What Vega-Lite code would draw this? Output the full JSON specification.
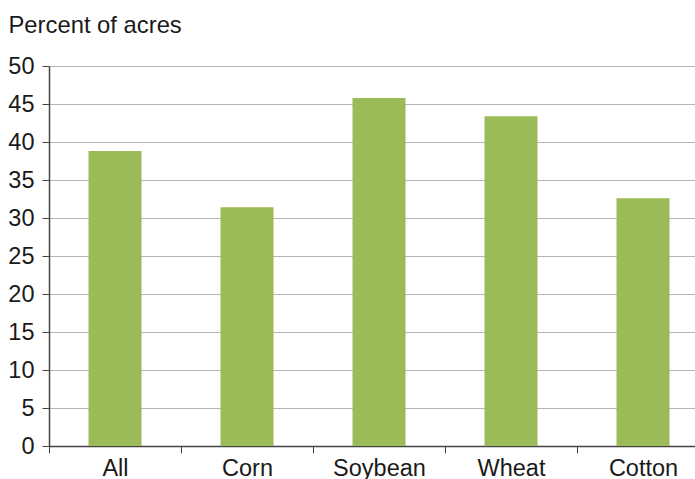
{
  "$schema": "https://vega.github.io/schema/vega-lite/v6.json",
  "autosize": "none",
  "padding": {"left": 49, "top": 66, "right": 0, "bottom": 33},
  "width": 660,
  "height": 380,
  "background": "white",
  "data": {"values": [
    {"crop": "All", "pct": 38.8},
    {"crop": "Corn", "pct": 31.4},
    {"crop": "Soybean", "pct": 45.8},
    {"crop": "Wheat", "pct": 43.4},
    {"crop": "Cotton", "pct": 32.6}
  ]},
  "config": {
    "view": {"stroke": null},
    "font": "Liberation Sans",
    "axis": {"labelFont": "Liberation Sans", "titleFont": "Liberation Sans", "labelColor": "#1a1a1a", "titleColor": "#1a1a1a"}
  },
  "mark": {"type": "bar", "color": "#9bbb59", "width": 53},
  "encoding": {
    "x": {
      "field": "crop", "type": "nominal", "sort": null,
      "scale": {"paddingInner": 0, "paddingOuter": 0},
      "axis": {
        "title": null, "labelAngle": 0, "labelFontSize": 23.5, "labelPadding": 3,
        "tickSize": 7, "tickColor": "#444", "domainColor": "#444", "domainWidth": 1.5,
        "tickBand": "extent", "grid": false
      }
    },
    "y": {
      "field": "pct", "type": "quantitative",
      "scale": {"domain": [0, 50], "nice": false},
      "axis": {
        "values": [0, 5, 10, 15, 20, 25, 30, 35, 40, 45, 50],
        "title": "Percent of acres", "titleAngle": 0, "titleAlign": "left", "titleBaseline": "alphabetic",
        "titleX": -41, "titleY": -34, "titleFontSize": 23.8, "titleFontWeight": "normal",
        "labelFontSize": 23.5, "labelPadding": 8, "tickSize": 7,
        "tickColor": "#444", "domainColor": "#444", "domainWidth": 1.5,
        "grid": true, "gridColor": "#b5b5b5", "gridWidth": 1.2
      }
    }
  }
}
